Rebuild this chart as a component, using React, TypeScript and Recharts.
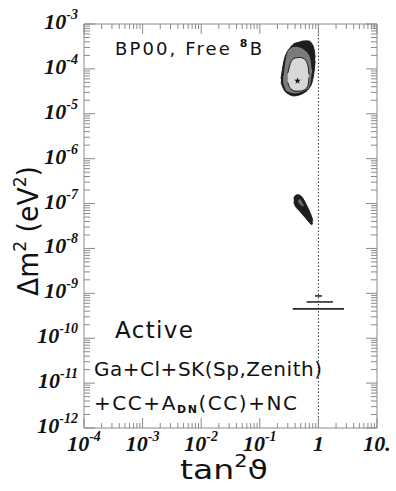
import React from "react";
import {
  Area,
  ComposedChart,
  Line,
  ReferenceLine,
  Scatter,
  Symbols,
  XAxis,
  YAxis,
} from "recharts";

const W = 396;
const H = 491;
const PLOT = { left: 84, top: 24, right: 377, bottom: 428 };

const FRAME = "#8a8a8a";
const INK = "#111";
const SERIF = "'Liberation Serif', 'Times New Roman', serif";
const SANS = "'DejaVu Sans', Verdana, sans-serif";

/* ---------- axes ---------- */
const X_DECADES = [-4, -3, -2, -1, 0, 1];
const X_LABEL_BASE = ["10", "10", "10", "10", "1", "10."];
const X_LABEL_EXP = ["-4", "-3", "-2", "-1", "", ""];

const Y_DECADES = [-12, -11, -10, -9, -8, -7, -6, -5, -4, -3];
const Y_LABEL_EXP = ["-12", "-11", "-10", "-9", "-8", "-7", "-6", "-5", "-4", "-3"];

const MINOR_STEPS = [2, 3, 4, 5, 6, 7, 8, 9];

function logTicks(decades: number[]) {
  const out: number[] = [];
  decades.forEach((d, i) => {
    out.push(10 ** d);
    if (i < decades.length - 1) MINOR_STEPS.forEach((m) => out.push(m * 10 ** d));
  });
  return out;
}
const X_TICKS = logTicks(X_DECADES);
const Y_TICKS = logTicks(Y_DECADES);

const decadeOf = (v: number) => {
  const l = Math.log10(v);
  return Math.abs(l - Math.round(l)) < 1e-6 ? Math.round(l) : null;
};

/* ---------- allowed regions: [tan²θ, Δm² low, Δm² high] ---------- */
const LMA_OUTER = [
  [0.23, 5.0e-5, 6.0e-5],
  [0.26, 3.4e-5, 1.55e-4],
  [0.31, 2.75e-5, 2.6e-4],
  [0.38, 2.5e-5, 3.6e-4],
  [0.46, 2.6e-5, 3.9e-4],
  [0.56, 2.9e-5, 4.2e-4],
  [0.68, 3.6e-5, 4.2e-4],
  [0.78, 5.1e-5, 3.6e-4],
  [0.85, 9.5e-5, 2.6e-4],
  [0.88, 1.5e-4, 1.8e-4],
];
const LMA_MID = [
  [0.25, 4.6e-5, 7.0e-5],
  [0.28, 3.2e-5, 2.0e-4],
  [0.33, 2.9e-5, 2.9e-4],
  [0.4, 2.76e-5, 3.2e-4],
  [0.49, 2.9e-5, 3.05e-4],
  [0.59, 3.2e-5, 2.64e-4],
  [0.7, 3.9e-5, 2.04e-4],
  [0.76, 5.7e-5, 1.43e-4],
  [0.78, 8.0e-5, 1.0e-4],
];
const LMA_INNER = [
  [0.3, 5.0e-5, 8.0e-5],
  [0.31, 4.4e-5, 9.5e-5],
  [0.34, 3.6e-5, 1.43e-4],
  [0.4, 3.2e-5, 1.75e-4],
  [0.49, 3.2e-5, 1.8e-4],
  [0.57, 3.4e-5, 1.66e-4],
  [0.64, 3.9e-5, 1.36e-4],
  [0.68, 5.1e-5, 9.5e-5],
  [0.69, 6.5e-5, 7.5e-5],
];
const LOW_OUTER = [
  [0.38, 1.05e-7, 1.3e-7],
  [0.4, 9.0e-8, 1.48e-7],
  [0.44, 7.6e-8, 1.58e-7],
  [0.49, 6.6e-8, 1.52e-7],
  [0.55, 5.5e-8, 1.28e-7],
  [0.62, 4.6e-8, 9.5e-8],
  [0.7, 3.8e-8, 6.8e-8],
  [0.77, 3.4e-8, 5.0e-8],
  [0.8, 3.6e-8, 4.2e-8],
];
const LOW_INNER = [
  [0.45, 1.05e-7, 1.22e-7],
  [0.48, 9.5e-8, 1.28e-7],
  [0.52, 8.6e-8, 1.18e-7],
  [0.56, 8.4e-8, 9.6e-8],
];

// vacuum-oscillation strips: [tan²θ from, tan²θ to, Δm²]
const VO_STRIPS = [
  [0.875, 1.15, 8.75e-10],
  [0.63, 1.77, 6.43e-10],
  [0.364, 2.73, 4.5e-10],
];

const BEST_FIT = [{ x: 0.44, y: 5.4e-5 }];

const toRange = (rows: number[][]) => rows.map(([x, lo, hi]) => ({ x, range: [lo, hi] }));
const toSeg = ([a, b, y]: number[]) => [
  { x: a, y },
  { x: b, y },
];

/* ---------- tick renderers ---------- */
function BottomTick({ x, y, payload }: any) {
  const d = decadeOf(payload.value);
  const len = d === null ? 5 : 10;
  const i = d === null ? -1 : X_DECADES.indexOf(d);
  return (
    <g>
      <line x1={x} x2={x} y1={y} y2={y - len} stroke={FRAME} />
      {i >= 0 && (
        <text x={x} y={y + 23} textAnchor="middle" fontFamily={SERIF} fontWeight="bold" fontStyle="italic" fontSize={22} fill={INK}>
          {X_LABEL_BASE[i]}
          {X_LABEL_EXP[i] && (
            <tspan fontSize={14} dy={-10}>
              {X_LABEL_EXP[i]}
            </tspan>
          )}
        </text>
      )}
    </g>
  );
}

function TopTick({ x, y, payload }: any) {
  const len = decadeOf(payload.value) === null ? 5 : 10;
  return <line x1={x} x2={x} y1={y} y2={y + len} stroke={FRAME} />;
}

function LeftTick({ x, y, payload }: any) {
  const d = decadeOf(payload.value);
  const len = d === null ? 6 : 11;
  const i = d === null ? -1 : Y_DECADES.indexOf(d);
  return (
    <g>
      <line x1={x} x2={x + len} y1={y} y2={y} stroke={FRAME} />
      {i >= 0 && (
        <text x={x - 6} y={y + 5} textAnchor="end" fontFamily={SERIF} fontWeight="bold" fontStyle="italic" fontSize={22} fill={INK}>
          10
          <tspan fontSize={14} dy={-10}>
            {Y_LABEL_EXP[i]}
          </tspan>
        </text>
      )}
    </g>
  );
}

function RightTick({ x, y, payload }: any) {
  const len = decadeOf(payload.value) === null ? 6 : 11;
  return <line x1={x} x2={x - len} y1={y} y2={y} stroke={FRAME} />;
}

function Star({ cx, cy }: any) {
  return <Symbols cx={cx} cy={cy} type="star" size={14} fill={INK} />;
}

function Annotations() {
  return (
    <svg width={W} height={H} style={{ position: "absolute", left: 0, top: 0, pointerEvents: "none" }}>
      <g fontFamily={SANS} fill={INK}>
        <text x={115} y={55} fontSize={18} textLength={147} lengthAdjust="spacing">
          BP00, Free{" "}
          <tspan fontSize={11} fontWeight="bold" dy={-8}>
            8
          </tspan>
          <tspan dy={8}>B</tspan>
        </text>
        <text x={115} y={338} fontSize={23} textLength={78} lengthAdjust="spacing">
          Active
        </text>
        <text x={94} y={376} fontSize={20} textLength={228} lengthAdjust="spacing">
          Ga+Cl+SK(Sp,Zenith)
        </text>
        <text x={94} y={410} fontSize={20} textLength={203} lengthAdjust="spacing">
          +CC+A
          <tspan fontSize={11} fontWeight="bold" dy={3}>
            DN
          </tspan>
          <tspan dy={-3}>(CC)+NC</tspan>
        </text>
        <text
          transform="translate(38,231) rotate(-90)"
          textAnchor="middle"
          fontSize={28}
          textLength={130}
          lengthAdjust="spacingAndGlyphs"
        >
          Δm
          <tspan fontSize={18} dy={-12}>
            2
          </tspan>
          <tspan dy={12}> (eV</tspan>
          <tspan fontSize={18} dy={-12}>
            2
          </tspan>
          <tspan dy={12}>)</tspan>
        </text>
        <text x={224} y={479} textAnchor="middle" fontSize={27} textLength={88} lengthAdjust="spacingAndGlyphs">
          tan
          <tspan fontSize={17} dy={-12}>
            2
          </tspan>
          <tspan dy={12}>ϑ</tspan>
        </text>
      </g>
    </svg>
  );
}

export default function App() {
  const region = (rows: number[][], fill: string, key: string) => (
    <Area
      key={key}
      data={toRange(rows)}
      dataKey="range"
      type="monotone"
      fill={fill}
      fillOpacity={1}
      stroke="#1a1a1a"
      strokeWidth={1}
      dot={false}
      activeDot={false}
      isAnimationActive={false}
    />
  );

  // axes take 1px each, so the plot box lands on PLOT
  return (
    <div style={{ position: "absolute", left: 0, top: 0, width: W, height: H, background: "#fff" }}>
      <ComposedChart
        width={W}
        height={H}
        margin={{
          top: PLOT.top - 1,
          left: PLOT.left - 1,
          right: W - PLOT.right - 1,
          bottom: H - PLOT.bottom - 1,
        }}
      >
        <XAxis
          dataKey="x"
          type="number"
          scale="log"
          domain={[1e-4, 10]}
          allowDataOverflow
          ticks={X_TICKS}
          interval={0}
          height={1}
          tickSize={0}
          tickMargin={0}
          tickLine={false}
          tick={<BottomTick />}
          axisLine={{ stroke: FRAME }}
        />
        <XAxis
          xAxisId="top"
          orientation="top"
          dataKey="x"
          type="number"
          scale="log"
          domain={[1e-4, 10]}
          allowDataOverflow
          ticks={X_TICKS}
          interval={0}
          height={1}
          tickSize={0}
          tickMargin={0}
          tickLine={false}
          tick={<TopTick />}
          axisLine={{ stroke: FRAME }}
        />
        <YAxis
          dataKey="y"
          type="number"
          scale="log"
          domain={[1e-12, 1e-3]}
          allowDataOverflow
          ticks={Y_TICKS}
          interval={0}
          width={1}
          tickSize={0}
          tickMargin={0}
          tickLine={false}
          tick={<LeftTick />}
          axisLine={{ stroke: FRAME }}
        />
        <YAxis
          yAxisId="right"
          orientation="right"
          type="number"
          scale="log"
          domain={[1e-12, 1e-3]}
          allowDataOverflow
          ticks={Y_TICKS}
          interval={0}
          width={1}
          tickSize={0}
          tickMargin={0}
          tickLine={false}
          tick={<RightTick />}
          axisLine={{ stroke: FRAME }}
        />

        {region(LMA_OUTER, "#1e1e1e", "lma3")}
        {region(LMA_MID, "#7b7b7b", "lma2")}
        {region(LMA_INNER, "#d8d8d8", "lma1")}
        {region(LOW_OUTER, "#1e1e1e", "low3")}
        {region(LOW_INNER, "#6a6a6a", "low2")}

        {VO_STRIPS.map((s, i) => (
          <Line
            key={i}
            data={toSeg(s)}
            dataKey="y"
            stroke="#2a2a2a"
            strokeWidth={1.6}
            dot={false}
            activeDot={false}
            isAnimationActive={false}
          />
        ))}

        <ReferenceLine x={1} stroke="#333" strokeDasharray="1.5 2" ifOverflow="hidden" />
        <Scatter data={BEST_FIT} dataKey="y" shape={<Star />} isAnimationActive={false} />
      </ComposedChart>
      <Annotations />
    </div>
  );
}
